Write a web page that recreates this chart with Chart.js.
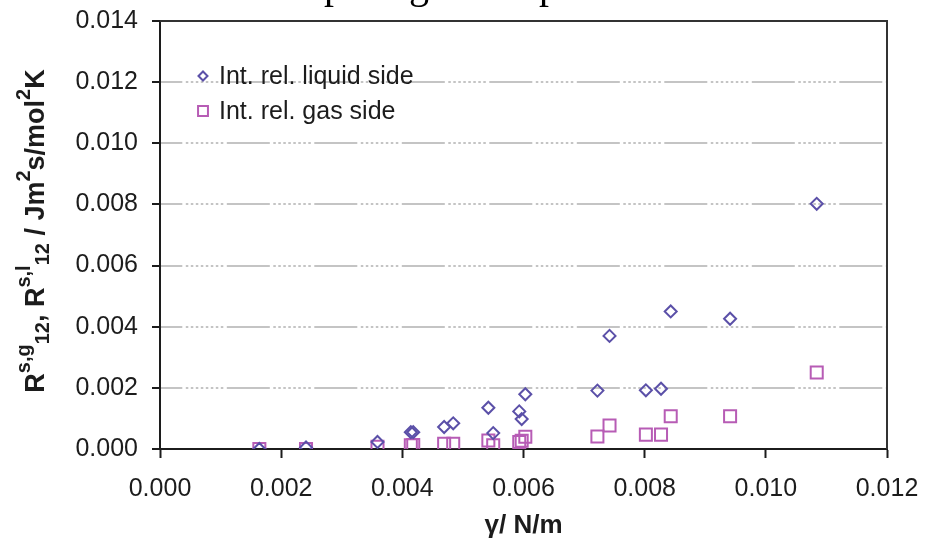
<!DOCTYPE html>
<html>
<head>
<meta charset="utf-8">
<script src="https://cdn.jsdelivr.net/npm/chart.js@4.4.0/dist/chart.umd.min.js"></script>
<style>
  html, body { margin: 0; padding: 0; background: #fff; }
  #wrap { width: 936px; height: 543px; position: relative; }
</style>
</head>
<body>
<div id="wrap"><canvas id="chart"></canvas></div>
<script>
// surface tension (N/m) of each run
const gamma = [0.00164, 0.00241, 0.00359, 0.00414, 0.00418, 0.00469, 0.00484, 0.00542, 0.00550, 0.00593,
               0.00597, 0.00603, 0.00722, 0.00742, 0.00802, 0.00827, 0.00843, 0.00941, 0.01084];
// interfacial resistivities, liquid and gas side
const liquidSide = [0.00000, 0.00005, 0.00023, 0.00055, 0.00055, 0.00072, 0.00084, 0.00135, 0.00052, 0.00123,
                    0.00098, 0.00179, 0.00191, 0.00370, 0.00192, 0.00197, 0.00450, 0.00426, 0.00802];
const gasSide = [0.00000, 0.00000, 0.00007, 0.00012, 0.00013, 0.00017, 0.00017, 0.00028, 0.00012, 0.00023,
                 0.00027, 0.00040, 0.00041, 0.00077, 0.00047, 0.00047, 0.00107, 0.00107, 0.00250];
const seriesNames = ["Int. rel. liquid side", "Int. rel. gas side"];
const xTicks = [0, 0.002, 0.004, 0.006, 0.008, 0.010, 0.012];
const yTicks = [0, 0.002, 0.004, 0.006, 0.008, 0.010, 0.012, 0.014];

const LIQ_COLOR = "#5b50a8";
const GAS_COLOR = "#b75cb5";
const TEXT = "#1c1c1c";
const FONT = "'Liberation Sans', Arial, sans-serif";

const toPoints = ys => gamma.map((x, i) => ({ x: x, y: ys[i] }));

// y axis title with super/subscripts, drawn rotated on the left
const yTitleParts = [
    ["R", "n"], ["s,g", "sup"], ["12", "sub"], [", R", "n"], ["s,l", "sup"], ["12", "sub"],
    [" / Jm", "n"], ["2", "sup"], ["s/mol", "n"], ["2", "sup"], ["K", "n"]
];
const yTitlePlugin = {
    id: "yTitle",
    afterDraw(chart) {
        const ctx = chart.ctx;
        const fonts = { n: "bold 27px " + FONT, sup: "bold 20px " + FONT, sub: "bold 20px " + FONT };
        const shift = { n: 0, sup: -14, sub: 5 };
        let total = 0;
        for (const [t, k] of yTitleParts) {
            ctx.font = fonts[k];
            total += ctx.measureText(t).width;
        }
        ctx.save();
        ctx.translate(44, 231);
        ctx.rotate(-Math.PI / 2);
        ctx.fillStyle = TEXT;
        ctx.textBaseline = "alphabetic";
        let u = -total / 2;
        for (const [t, k] of yTitleParts) {
            ctx.font = fonts[k];
            ctx.fillText(t, u, shift[k]);
            u += ctx.measureText(t).width;
        }
        ctx.restore();
    }
};

// bottom of the caption line above, cut off by the top edge
const captionTail = [["p", 324], ["g", 409], ["p", 539]];
const captionPlugin = {
    id: "captionTail",
    afterDraw(chart) {
        const ctx = chart.ctx;
        ctx.save();
        ctx.fillStyle = "#000";
        ctx.font = "40px 'Liberation Serif', 'Times New Roman', serif";
        ctx.textBaseline = "alphabetic";
        for (const [ch, x] of captionTail) ctx.fillText(ch, x, -2);
        ctx.restore();
    }
};

// top and right edges of the plot frame
const framePlugin = {
    id: "frame",
    beforeDatasetsDraw(chart) {
        const { left, right, top, bottom } = chart.chartArea;
        const ctx = chart.ctx;
        ctx.save();
        ctx.strokeStyle = "#333";
        ctx.lineWidth = 2;
        ctx.beginPath();
        ctx.moveTo(left, top);
        ctx.lineTo(right, top);
        ctx.lineTo(right, bottom);
        ctx.stroke();
        ctx.restore();
    }
};

// legend sitting inside the plot, top left
const legendRadius = [4.5, 7];
const insideLegend = {
    id: "insideLegend",
    afterDraw(chart) {
        const ctx = chart.ctx;
        const { left, top } = chart.chartArea;
        chart.data.datasets.forEach((ds, i) => {
            const y = top + 55 + i * 35;
            ctx.save();
            ctx.strokeStyle = ds.borderColor;
            ctx.fillStyle = "rgba(0,0,0,0)";
            ctx.lineWidth = 2;
            Chart.helpers.drawPoint(ctx, { pointStyle: ds.pointStyle, radius: legendRadius[i], borderWidth: 2, rotation: 0 }, left + 43, y);
            ctx.fillStyle = TEXT;
            ctx.font = "25px " + FONT;
            ctx.textBaseline = "middle";
            ctx.fillText(ds.label, left + 59, y + 1);
            ctx.restore();
        });
    }
};

const ctx = document.getElementById("chart");
new Chart(ctx, {
    type: "scatter",
    data: {
        datasets: [
            {
                label: seriesNames[0],
                data: toPoints(liquidSide),
                pointStyle: "rectRot",
                pointRadius: 6,
                pointHoverRadius: 6,
                borderWidth: 2,
                borderColor: LIQ_COLOR,
                backgroundColor: "rgba(0,0,0,0)"
            },
            {
                label: seriesNames[1],
                data: toPoints(gasSide),
                pointStyle: "rect",
                pointRadius: 8.5,
                pointHoverRadius: 8.5,
                borderWidth: 2,
                borderColor: GAS_COLOR,
                backgroundColor: "rgba(0,0,0,0)"
            }
        ]
    },
    options: {
        responsive: true,
        maintainAspectRatio: false,
        animation: false,
        layout: { padding: { top: 21, right: 49, left: 0, bottom: 0 } },
        plugins: {
            legend: { display: false },
            tooltip: { enabled: false }
        },
        scales: {
            x: {
                type: "linear",
                min: xTicks[0],
                max: xTicks[xTicks.length - 1],
                afterFit: s => { s.height = 94; s.paddingLeft = 0; s.paddingRight = 0; },
                afterBuildTicks: s => { s.ticks = xTicks.map(v => ({ value: v })); },
                ticks: {
                    color: TEXT,
                    font: { family: FONT, size: 25 },
                    padding: 16,
                    maxRotation: 0,
                    callback: v => v.toFixed(3)
                },
                grid: { drawOnChartArea: false, tickLength: 9, tickWidth: 2, tickColor: TEXT },
                border: { color: TEXT, width: 2 },
                title: {
                    display: true,
                    text: "γ/ N/m",
                    color: TEXT,
                    font: { family: FONT, size: 26, weight: "bold" },
                    padding: { top: 0, bottom: 2 }
                }
            },
            y: {
                type: "linear",
                min: yTicks[0],
                max: yTicks[yTicks.length - 1],
                afterFit: s => { s.width = 160; s.paddingTop = 0; s.paddingBottom = 0; },
                afterBuildTicks: s => { s.ticks = yTicks.map(v => ({ value: v })); },
                ticks: {
                    color: TEXT,
                    font: { family: FONT, size: 25 },
                    padding: 14,
                    callback: v => v.toFixed(3)
                },
                grid: {
                    color: c => (c.tick && c.tick.value > 1e-9 && c.tick.value < 0.0139) ? "#c4c4c4" : "rgba(0,0,0,0)",
                    lineWidth: 2,
                    tickLength: 8,
                    tickWidth: 2,
                    tickColor: TEXT,
                    tickBorderDash: []
                },
                border: {
                    color: TEXT,
                    width: 2,
                    dash: [43, 3.5, 2.5, 2.5, 2.5, 2.5, 2.5, 2.5, 2.5, 2.5, 2.5, 2.5, 2.5, 2.5, 2.5, 2.5, 2.5, 3.5],
                    dashOffset: 21.7
                }
            }
        }
    },
    plugins: [framePlugin, yTitlePlugin, insideLegend, captionPlugin]
});
</script>
</body>
</html>
